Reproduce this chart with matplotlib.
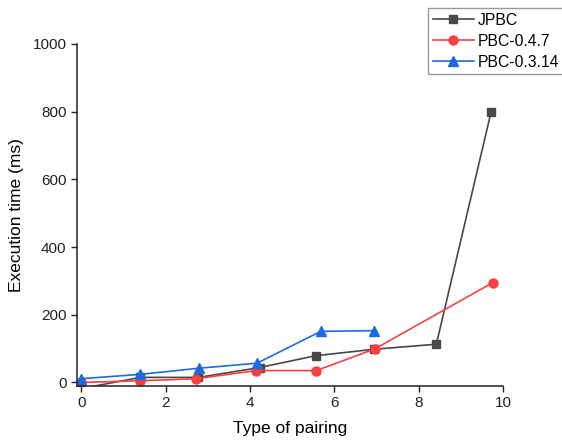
import matplotlib.pyplot as plt

plt.rcParams.update({
    "font.family": ["Liberation Sans", "DejaVu Sans"],
    "font.size": 11,
    "axes.labelsize": 12.5,
    "xtick.labelsize": 11,
    "ytick.labelsize": 11,
})

# ----------------------------
# Data
# ----------------------------
jpbc_x = [0, 1.40, 2.78, 4.23, 5.56, 6.94, 8.42, 9.72]
jpbc_y = [-18, 15, 15, 44, 79, 98, 113, 800]

pbc047_x = [0, 1.40, 2.71, 4.15, 5.57, 6.96, 9.76]
pbc047_y = [0, 5, 11, 35, 35, 99, 295]

pbc0314_x = [0, 1.40, 2.79, 4.17, 5.68, 6.94]
pbc0314_y = [11, 24, 42, 57, 151, 153]

labels = ["JPBC", "PBC-0.4.7", "PBC-0.3.14"]
colors = ["#484848", "#f84040", "#1f6ae0"]

fig = plt.figure(figsize=(5.62, 4.43), dpi=100)
ax = fig.add_axes([0.137, 0.129, 0.758, 0.772])

ax.plot(jpbc_x, jpbc_y, color=colors[0], marker="s", markersize=5.5,
        linewidth=1.2, label=labels[0])
ax.plot(pbc047_x, pbc047_y, color=colors[1], marker="o", markersize=6.5,
        linewidth=1.2, label=labels[1])
ax.plot(pbc0314_x, pbc0314_y, color=colors[2], marker="^", markersize=7,
        linewidth=1.2, label=labels[2])

ax.set_xlim(-0.1, 10)
ax.set_ylim(-10, 1000)
ax.set_xticks(range(0, 11, 2))
ax.set_yticks(range(0, 1001, 200))

ax.spines["top"].set_visible(False)
ax.spines["right"].set_visible(False)
for s in ("left", "bottom"):
    ax.spines[s].set_linewidth(1.1)
    ax.spines[s].set_color("#222222")
ax.tick_params(direction="out", length=4, width=1.0, colors="#222222")

ax.set_xlabel("Type of pairing", labelpad=8)
ax.set_ylabel("Execution time (ms)", labelpad=6)

fig.legend(loc="upper left", bbox_to_anchor=(0.7616, 0.982),
           borderaxespad=0, fancybox=False, edgecolor="#999999",
           framealpha=1, handlelength=2.6, handletextpad=0.25,
           borderpad=0.3, labelspacing=0.38, fontsize=11.3)

fig.savefig("out.png", dpi=100)
